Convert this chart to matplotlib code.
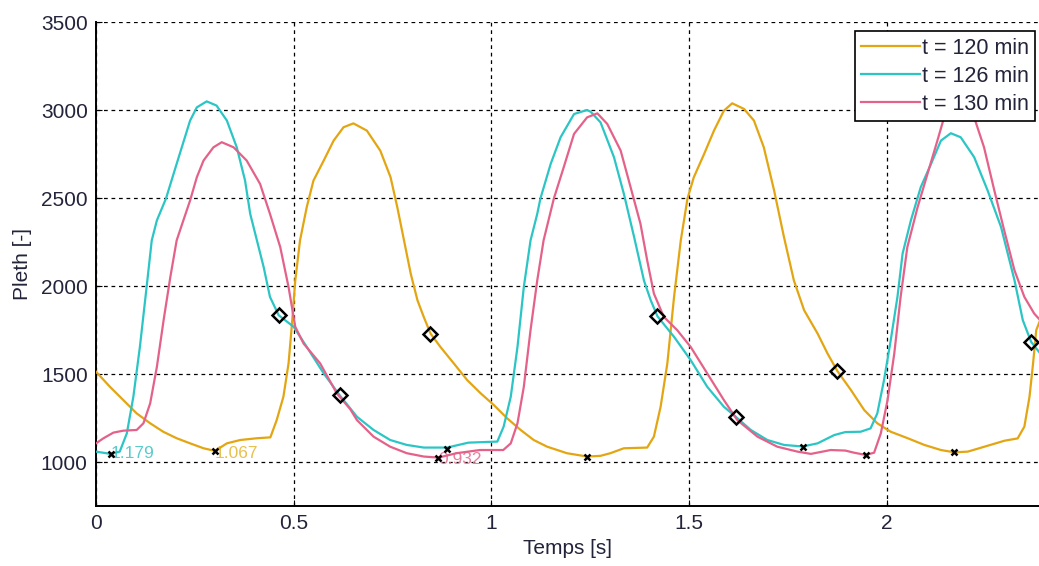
import matplotlib
matplotlib.use("Agg")
import matplotlib.pyplot as plt

plt.rcParams['font.family'] = ['Liberation Sans', 'DejaVu Sans']

# ---- data ----
t120_x = [0.000, 0.035, 0.069, 0.103, 0.137, 0.170, 0.204, 0.238, 0.272, 0.301, 0.331, 0.365, 0.407, 0.441,
          0.457, 0.474, 0.487, 0.495, 0.504, 0.516, 0.533, 0.550, 0.576, 0.601, 0.626, 0.651, 0.685, 0.719,
          0.745, 0.762, 0.779, 0.796, 0.813, 0.829, 0.846, 0.871, 0.905, 0.939, 0.973, 1.006, 1.040, 1.074,
          1.107, 1.141, 1.191, 1.242, 1.276, 1.301, 1.335, 1.394, 1.411, 1.428, 1.445, 1.462, 1.479, 1.496,
          1.512, 1.538, 1.563, 1.588, 1.609, 1.639, 1.664, 1.689, 1.715, 1.740, 1.765, 1.791, 1.825, 1.850,
          1.875, 1.909, 1.943, 1.976, 2.010, 2.053, 2.095, 2.137, 2.171, 2.205, 2.247, 2.298, 2.331, 2.348,
          2.361, 2.370, 2.378, 2.388]
t120_y = [1513, 1428, 1352, 1276, 1220, 1172, 1135, 1106, 1078, 1063, 1106, 1125, 1135, 1140,
          1238, 1371, 1560, 1768, 2032, 2259, 2448, 2599, 2713, 2826, 2902, 2924, 2883, 2769,
          2618, 2448, 2259, 2070, 1919, 1824, 1730, 1654, 1560, 1465, 1390, 1324, 1248, 1182,
          1125, 1087, 1050, 1031, 1035, 1050, 1078, 1082, 1144, 1314, 1560, 1938, 2259, 2497,
          2618, 2750, 2883, 2996, 3038, 3006, 2940, 2788, 2543, 2278, 2032, 1862, 1730, 1617,
          1517, 1410, 1295, 1220, 1172, 1135, 1097, 1068, 1055, 1059, 1087, 1121, 1134, 1201,
          1371, 1560, 1749, 1806]

t126_x = [0.000, 0.037, 0.060, 0.078, 0.0945, 0.111, 0.128, 0.141, 0.154, 0.177, 0.204, 0.238, 0.255, 0.280,
          0.305, 0.331, 0.356, 0.377, 0.390, 0.407, 0.424, 0.440, 0.462, 0.500, 0.533, 0.576, 0.616, 0.660,
          0.702, 0.744, 0.786, 0.829, 0.888, 0.942, 1.015, 1.031, 1.049, 1.066, 1.082, 1.099, 1.116, 1.124,
          1.150, 1.175, 1.209, 1.242, 1.251, 1.276, 1.310, 1.335, 1.361, 1.386, 1.403, 1.420, 1.462, 1.504,
          1.546, 1.588, 1.618, 1.656, 1.698, 1.740, 1.787, 1.825, 1.867, 1.895, 1.934, 1.959, 1.976, 1.993,
          2.010, 2.027, 2.040, 2.061, 2.086, 2.112, 2.137, 2.162, 2.187, 2.221, 2.255, 2.289, 2.323, 2.344,
          2.365, 2.388]
t126_y = [1059, 1046, 1059, 1163, 1371, 1654, 1994, 2259, 2373, 2497, 2694, 2940, 3015, 3049,
          3025, 2940, 2788, 2599, 2410, 2259, 2108, 1938, 1834, 1768, 1654, 1503, 1380, 1257,
          1182, 1125, 1097, 1082, 1082, 1110, 1116, 1201, 1371, 1654, 1994, 2259, 2410, 2497,
          2694, 2845, 2977, 3000, 2990, 2930, 2732, 2524, 2278, 2030, 1919, 1828, 1711, 1579,
          1427, 1314, 1257, 1182, 1125, 1097, 1088, 1106, 1153, 1170, 1172, 1191, 1276, 1465,
          1692, 1938, 2184, 2373, 2562, 2694, 2826, 2868, 2845, 2732, 2543, 2335, 2033, 1806,
          1683, 1617]

t130_x = [0.000, 0.019, 0.044, 0.069, 0.103, 0.120, 0.137, 0.154, 0.171, 0.188, 0.204, 0.221, 0.238, 0.255,
          0.272, 0.297, 0.318, 0.348, 0.381, 0.415, 0.440, 0.466, 0.487, 0.504, 0.525, 0.567, 0.609, 0.643,
          0.660, 0.702, 0.744, 0.786, 0.829, 0.866, 0.912, 0.971, 1.030, 1.049, 1.066, 1.082, 1.099, 1.116,
          1.132, 1.158, 1.183, 1.209, 1.242, 1.268, 1.293, 1.327, 1.352, 1.377, 1.394, 1.411, 1.436, 1.470,
          1.504, 1.546, 1.588, 1.622, 1.673, 1.723, 1.774, 1.808, 1.858, 1.895, 1.917, 1.947, 1.968, 1.985,
          2.002, 2.019, 2.035, 2.052, 2.078, 2.103, 2.128, 2.145, 2.185, 2.221, 2.246, 2.272, 2.297, 2.323,
          2.348, 2.373, 2.388]
t130_y = [1106, 1135, 1167, 1178, 1182, 1220, 1333, 1541, 1806, 2051, 2259, 2373, 2486, 2618,
          2713, 2788, 2817, 2788, 2713, 2580, 2410, 2221, 1994, 1768, 1673, 1560, 1390, 1300,
          1238, 1144, 1087, 1050, 1031, 1025, 1050, 1068, 1068, 1106, 1220, 1427, 1749, 2032,
          2259, 2497, 2675, 2864, 2958, 2981, 2921, 2769, 2562, 2354, 2146, 1957, 1825, 1749,
          1654, 1503, 1352, 1238, 1144, 1087, 1059, 1046, 1068, 1065, 1053, 1040, 1053, 1163,
          1352, 1617, 1938, 2221, 2448, 2637, 2826, 2958, 3010, 2958, 2788, 2543, 2316, 2089,
          1938, 1843, 1806]

# diamond markers
d120_x = [0.846, 1.875]
d120_y = [1730, 1517]
d126_x = [0.462, 0.616, 1.420, 1.618, 2.365]
d126_y = [1834, 1380, 1828, 1257, 1683]

# minimum markers
m120_x = [0.301, 1.242, 2.171]
m120_y = [1063, 1031, 1055]
m126_x = [0.037, 0.888, 1.787]
m126_y = [1046, 1072, 1088]
m130_x = [0.866, 1.947]
m130_y = [1025, 1040]

labels = ['t = 120 min', 't = 126 min', 't = 130 min']
ann_text = ['1.067', '1.179', '0.932']
ann_x = [0.301, 0.037, 0.866]
ann_y = [1050, 1046, 1017]

c120 = '#E3A612'
c126 = '#2CC5C5'
c130 = '#E4628A'
ann_colors = ['#E6C050', '#5ACBCB', '#E8809E']

fig = plt.figure(figsize=(10.39, 5.66), dpi=100)
ax = fig.add_axes([96/1039, 60/566, 943/1039, 484/566])

ax.plot(t120_x, t120_y, color=c120, lw=1.6, label=labels[0], zorder=3)
ax.plot(t126_x, t126_y, color=c126, lw=1.6, label=labels[1], zorder=3)
ax.plot(t130_x, t130_y, color=c130, lw=1.6, label=labels[2], zorder=3)

for tx, xx, yy, cc in zip(ann_text, ann_x, ann_y, ann_colors):
    ax.text(xx, yy, tx, color=cc, fontsize=12.5, va='center', ha='left', zorder=2)

ax.plot(d120_x + d126_x, d120_y + d126_y, linestyle='none', marker='D', ms=7,
        mfc='none', mec='black', mew=1.8, zorder=5)
ax.plot(m120_x + m126_x + m130_x, m120_y + m126_y + m130_y, linestyle='none', marker='x',
        ms=4, mec='black', mew=1.8, zorder=5)

ax.set_xlim(0, 2.385)
ax.set_ylim(750, 3500)
ax.set_xticks([0, 0.5, 1, 1.5, 2])
ax.set_xticklabels(['0', '0.5', '1', '1.5', '2'])
ax.set_yticks([1000, 1500, 2000, 2500, 3000, 3500])
ax.grid(True, color='black', linestyle=(0, (3, 3)), linewidth=0.9)
ax.set_axisbelow(True)
ax.spines['top'].set_visible(False)
ax.spines['right'].set_visible(False)
ax.spines['left'].set_linewidth(1.4)
ax.spines['bottom'].set_linewidth(1.4)
ax.tick_params(direction='in', length=4, labelsize=15, labelcolor='#23233a', pad=6)

ax.set_xlabel('Temps [s]', fontsize=15, color='#23233a', labelpad=4)
ax.set_ylabel('Pleth [-]', fontsize=15, color='#23233a', labelpad=6)

leg = ax.legend(loc='upper right', bbox_to_anchor=(0.996, 0.981), borderaxespad=0,
                fontsize=15.5, handlelength=2.7, handletextpad=0.1, labelspacing=0.33,
                fancybox=False, framealpha=1, edgecolor='black', borderpad=0.3)
leg.get_frame().set_linewidth(1.2)
for t in leg.get_texts():
    t.set_color('#23233a')

fig.savefig('out.png', dpi=100)
